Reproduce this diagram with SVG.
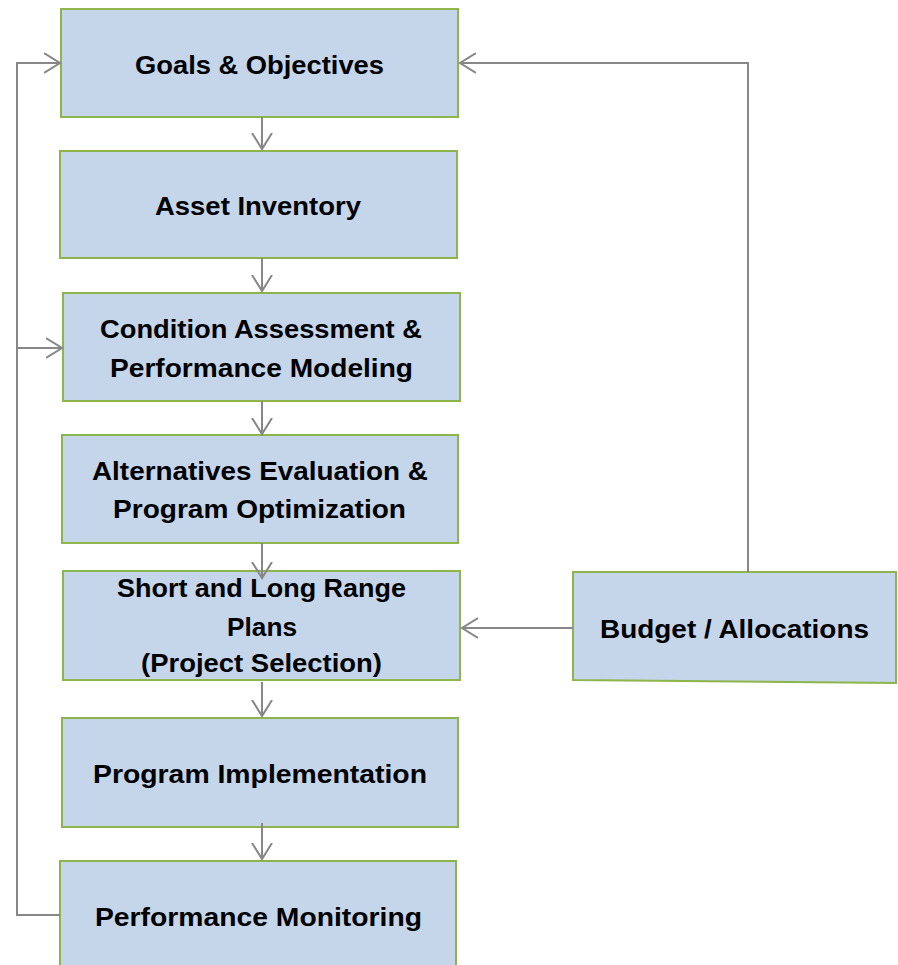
<svg xmlns="http://www.w3.org/2000/svg" width="898" height="965" viewBox="0 0 898 965">
<style>
.box{fill:#c5d5ea;stroke:#8db54b;stroke-width:2}
.lbl{font-family:"Liberation Sans",Arial,sans-serif;font-weight:bold;font-size:26px;fill:#000}
.conn{fill:none;stroke:#878787;stroke-width:2}
</style>
<defs>
<marker id="arr" viewBox="0 0 18 22" refX="16" refY="11" markerWidth="18" markerHeight="22" markerUnits="userSpaceOnUse" orient="auto">
<path d="M0,1 L16,11 L0,21" fill="none" stroke="#878787" stroke-width="2"/>
</marker>
</defs>
<rect width="898" height="965" fill="#fff"/>
<g id="goals">
<rect class="box" x="61" y="9" width="397" height="108"/>
<text class="lbl" x="135" y="74" textLength="249" lengthAdjust="spacingAndGlyphs">Goals &amp; Objectives</text>
</g>
<g id="inventory">
<rect class="box" x="60" y="151" width="397" height="107"/>
<text class="lbl" x="155" y="215" textLength="206" lengthAdjust="spacingAndGlyphs">Asset Inventory</text>
</g>
<g id="condition">
<rect class="box" x="63" y="293" width="397" height="108"/>
<text class="lbl" x="100" y="338" textLength="322" lengthAdjust="spacingAndGlyphs">Condition Assessment &amp;</text>
<text class="lbl" x="110" y="377" textLength="303" lengthAdjust="spacingAndGlyphs">Performance Modeling</text>
</g>
<g id="alternatives">
<rect class="box" x="62" y="435" width="396" height="108"/>
<text class="lbl" x="92" y="480" textLength="336" lengthAdjust="spacingAndGlyphs">Alternatives Evaluation &amp;</text>
<text class="lbl" x="113" y="518" textLength="293" lengthAdjust="spacingAndGlyphs">Program Optimization</text>
</g>
<g id="plans">
<rect class="box" x="63" y="571" width="397" height="109"/>
<text class="lbl" x="117" y="597" textLength="289" lengthAdjust="spacingAndGlyphs">Short and Long Range</text>
<text class="lbl" x="227" y="636" textLength="70" lengthAdjust="spacingAndGlyphs">Plans</text>
<text class="lbl" x="141" y="672" textLength="241" lengthAdjust="spacingAndGlyphs">(Project Selection)</text>
</g>
<g id="implementation">
<rect class="box" x="62" y="718" width="396" height="109"/>
<text class="lbl" x="93" y="783" textLength="334" lengthAdjust="spacingAndGlyphs">Program Implementation</text>
</g>
<g id="monitoring">
<rect class="box" x="60" y="861" width="396" height="110"/>
<text class="lbl" x="95" y="926" textLength="327" lengthAdjust="spacingAndGlyphs">Performance Monitoring</text>
</g>
<g id="budget">
<polygon class="box" points="573,572 896,572 896,683 573,680"/>
<text class="lbl" x="600" y="638" textLength="269" lengthAdjust="spacingAndGlyphs">Budget / Allocations</text>
</g>
<g id="connectors">
<path class="conn" d="M262,117 L262,149" marker-end="url(#arr)"/>
<path class="conn" d="M262,258 L262,291" marker-end="url(#arr)"/>
<path class="conn" d="M262,401 L262,434" marker-end="url(#arr)"/>
<path class="conn" d="M262,543 L262,578" marker-end="url(#arr)"/>
<path class="conn" d="M262,682 L262,716" marker-end="url(#arr)"/>
<path class="conn" d="M262,823 L262,859" marker-end="url(#arr)"/>
<path class="conn" d="M60,915 L17,915 L17,63 L60,63" marker-end="url(#arr)"/>
<path class="conn" d="M17,348 L62,348" marker-end="url(#arr)"/>
<path class="conn" d="M748,572 L748,63 L460,63" marker-end="url(#arr)"/>
<path class="conn" d="M573,628 L462,628" marker-end="url(#arr)"/>
</g>
</svg>
